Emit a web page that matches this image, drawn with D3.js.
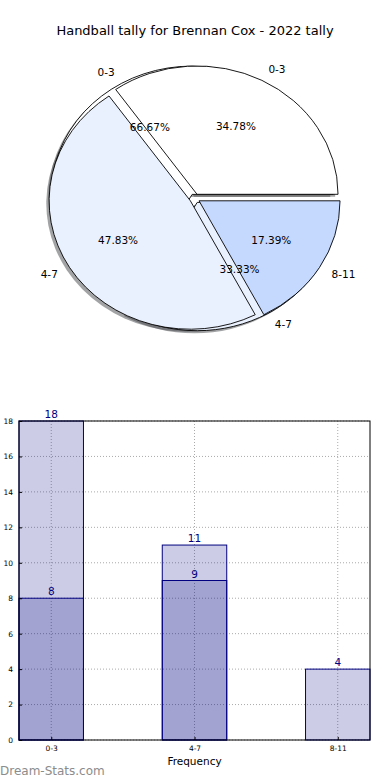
<!DOCTYPE html>
<html>
<head>
<meta charset="utf-8">
<script src="https://cdn.jsdelivr.net/npm/d3@7"></script>
<style>
  body { margin: 0; background: #fff; }
  svg { display: block; font-family: "DejaVu Sans", sans-serif; }
</style>
</head>
<body>
<svg></svg>
<script>
var width = 390,
    height = 780;

var svg = d3.select("svg")
    .attr("width", width)
    .attr("height", height);

// chart data
var title = "Handball tally for Brennan Cox - 2022 tally";
var categories = ["0-3", "4-7", "8-11"];
var lightValues = [18, 11, 4];
var darkValues = [8, 9, 0];

// the two pies: drawn back one first, front one on top
var backLabels = ["0-3", "4-7"];
var backValues = [18, 9];
var frontLabels = ["0-3", "4-7", "8-11"];
var frontValues = [8, 11, 4];

var yTicks = [0, 2, 4, 6, 8, 10, 12, 14, 16, 18];

var pieColors = ["#ffffff", "#eaf1fe", "#c5d9ff"];

// title
svg.append("text")
    .attr("x", width / 2)
    .attr("y", 35)
    .attr("text-anchor", "middle")
    .style("font-size", "13px")
    .text(title);

// ---- pie (elliptical, like matplotlib with non-equal aspect) ----
var cx = 194.7, cy = 198.4,
    rx = 141, ry = 128.3,
    EXPLODE = 0.036;

// counterclockwise from 3 o'clock
var pie = d3.pie().sort(null)
    .startAngle(Math.PI / 2)
    .endAngle(Math.PI / 2 - 2 * Math.PI);

var arc = d3.arc().innerRadius(0).outerRadius(1);

function slices(values, labels) {
  return pie(values).map(function (d, i) {
    var a = (d.startAngle + d.endAngle) / 2;
    d.label = labels[i];
    d.color = pieColors[i];
    d.sin = Math.sin(a);
    d.cos = Math.cos(a);
    d.ox = cx + EXPLODE * rx * d.sin;
    d.oy = cy - EXPLODE * ry * d.cos;
    d.pct = (100 * d.value / d3.sum(values)).toFixed(2) + "%";
    return d;
  });
}

var back = slices(backValues, backLabels),
    front = slices(frontValues, frontLabels);
var all = back.concat(front);

// shadows under everything
svg.append("g").selectAll("path")
    .data(all)
  .enter().append("path")
    .attr("transform", function (d) {
      return "translate(" + (d.ox - 0.02 * rx) + "," + (d.oy + 0.02 * ry) + ") scale(" + rx + "," + ry + ")";
    })
    .attr("d", arc)
    .attr("fill", function (d) {
      var c = d3.rgb(d.color);
      return d3.rgb(c.r * 0.3, c.g * 0.3, c.b * 0.3);
    })
    .attr("fill-opacity", 0.5);

[back, front].forEach(function (set) {
  var g = svg.append("g");
  g.selectAll("path")
      .data(set)
    .enter().append("path")
      .attr("transform", function (d) {
        return "translate(" + d.ox + "," + d.oy + ") scale(" + rx + "," + ry + ")";
      })
      .attr("d", arc)
      .attr("fill", function (d) { return d.color; })
      .attr("stroke", "#000")
      .attr("stroke-width", 0.9)
      .attr("vector-effect", "non-scaling-stroke");
});

// labels (outside) and percentages (inside)
var pieText = svg.append("g").style("font-size", "10.5px");
pieText.selectAll("text.lbl")
    .data(all)
  .enter().append("text")
    .attr("class", "lbl")
    .attr("x", function (d) { return d.ox + 1.1 * rx * d.sin; })
    .attr("y", function (d) { return d.oy - 1.1 * ry * d.cos; })
    .attr("dy", "0.35em")
    .attr("text-anchor", function (d) { return d.sin > 0 ? "start" : "end"; })
    .text(function (d) { return d.label; });

pieText.selectAll("text.pct")
    .data(all)
  .enter().append("text")
    .attr("class", "pct")
    .attr("x", function (d) { return d.ox + 0.6 * rx * d.sin; })
    .attr("y", function (d) { return d.oy - 0.6 * ry * d.cos; })
    .attr("dy", "0.35em")
    .attr("text-anchor", "middle")
    .text(function (d) { return d.pct; });

// ---- bar chart ----
var plotLeft = 19, plotRight = 370, plotTop = 421, plotBottom = 740;
var BAR_W = 0.45;

var x = d3.scaleLinear()
    .domain([-BAR_W / 2, categories.length - 1 + BAR_W / 2])
    .range([plotLeft, plotRight]);
var y = d3.scaleLinear().domain([0, 18]).range([plotBottom, plotTop]);

var grid = svg.append("g")
    .attr("stroke", "#aaa")
    .attr("stroke-dasharray", "1,2");
grid.selectAll("line.h")
    .data(yTicks)
  .enter().append("line")
    .attr("class", "h")
    .attr("x1", plotLeft).attr("x2", plotRight)
    .attr("y1", function (d) { return y(d); })
    .attr("y2", function (d) { return y(d); });
grid.selectAll("line.v")
    .data(categories)
  .enter().append("line")
    .attr("class", "v")
    .attr("x1", function (d, i) { return x(i); })
    .attr("x2", function (d, i) { return x(i); })
    .attr("y1", plotTop).attr("y2", plotBottom);

function bars(values) {
  var g = svg.append("g");
  g.selectAll("rect")
      .data(values)
    .enter().append("rect")
      .attr("x", function (d, i) { return x(i - BAR_W / 2); })
      .attr("y", function (d) { return y(d); })
      .attr("width", x(BAR_W) - x(0))
      .attr("height", function (d) { return y(0) - y(d); })
      .attr("fill", "navy")
      .attr("fill-opacity", function (d) { return d > 0 ? 0.2 : 0; })
      .attr("stroke", function (d) { return d > 0 ? "navy" : "none"; })
      .attr("stroke-width", 1);
  g.selectAll("text")
      .data(values.map(function (v, i) { return { v: v, i: i }; })
        .filter(function (d) { return d.v > 0; }))
    .enter().append("text")
      .attr("x", function (d) { return x(d.i); })
      .attr("y", function (d) { return y(d.v) - 3; })
      .attr("text-anchor", "middle")
      .attr("fill", "#000080")
      .style("font-size", "10.5px")
      .text(function (d) { return d.v; });
}
bars(lightValues);
bars(darkValues);

// axes with inward ticks
svg.append("g")
    .attr("transform", "translate(" + plotLeft + ",0)")
    .call(d3.axisLeft(y).tickValues(yTicks).tickSizeInner(-3).tickSizeOuter(0).tickPadding(6))
    .call(function (g) {
      g.select(".domain").remove();
      g.selectAll("text").style("font-size", "7.5px").attr("font-family", "DejaVu Sans");
    });

svg.append("g")
    .attr("transform", "translate(0," + plotBottom + ")")
    .call(d3.axisBottom(x).tickValues(d3.range(categories.length))
      .tickFormat(function (i) { return categories[i]; })
      .tickSizeInner(-3).tickSizeOuter(0).tickPadding(6))
    .call(function (g) {
      g.select(".domain").remove();
      g.selectAll("text").style("font-size", "7.5px").attr("font-family", "DejaVu Sans");
    });

// frame
svg.append("rect")
    .attr("x", plotLeft).attr("y", plotTop)
    .attr("width", plotRight - plotLeft).attr("height", plotBottom - plotTop)
    .attr("fill", "none")
    .attr("stroke", "#000")
    .attr("stroke-width", 1);

svg.append("text")
    .attr("x", x(1))
    .attr("y", 765)
    .attr("text-anchor", "middle")
    .style("font-size", "10.5px")
    .text("Frequency");

svg.append("text")
    .attr("x", 0)
    .attr("y", 775)
    .attr("fill", "#8c8c8c")
    .style("font-size", "12px")
    .text("Dream-Stats.com");
</script>
</body>
</html>
